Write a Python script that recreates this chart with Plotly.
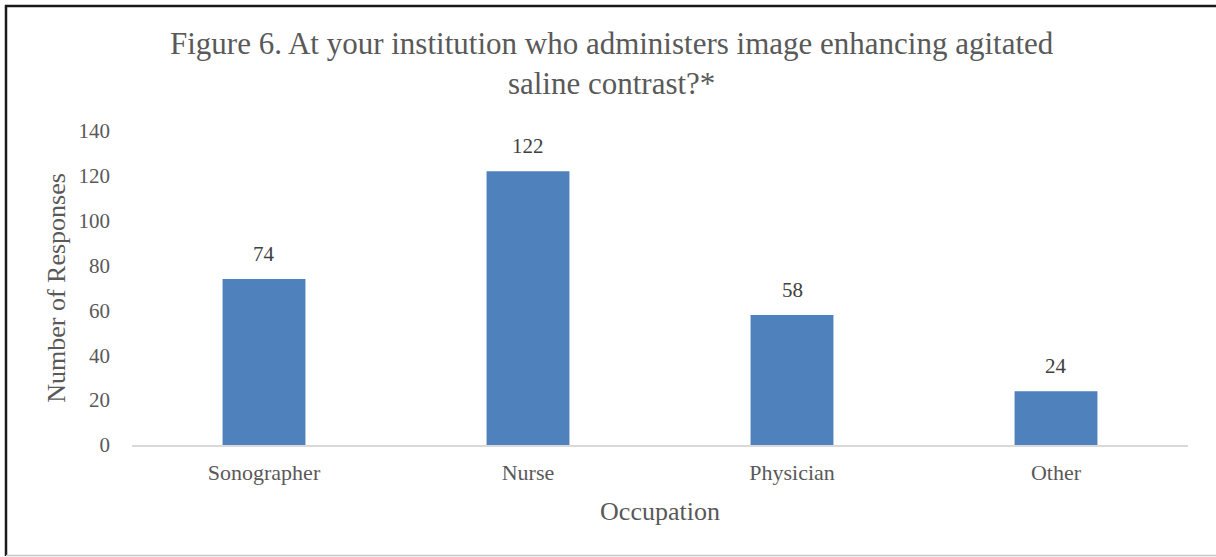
import plotly.graph_objects as go

# Survey responses by occupation
occupations = ["Sonographer", "Nurse", "Physician", "Other"]
responses = [74, 122, 58, 24]
y_ticks = [0, 20, 40, 60, 80, 100, 120, 140]

W, H = 1216, 557
ML, MR, MT, MB = 132, 28, 131, 112
PW, PH = W - ML - MR, H - MT - MB

def px(x):
    return (x - ML) / PW

def py(y):
    return 1 - (y - MT) / PH

FONT = "Liberation Serif"
GREY = "#595959"

fig = go.Figure(
    go.Bar(
        x=occupations,
        y=responses,
        marker=dict(color="#4F81BD", line=dict(width=0)),
        cliponaxis=False,
    )
)

# value labels above each bar
for cat, val in zip(occupations, responses):
    fig.add_annotation(
        x=cat, y=val, text=str(val), showarrow=False,
        yanchor="middle", yshift=25,
        font=dict(family=FONT, size=21, color="#404040"),
    )

fig.update_layout(
    width=W,
    height=H,
    margin=dict(l=ML, r=MR, t=MT, b=MB),
    paper_bgcolor="white",
    plot_bgcolor="white",
    bargap=0.686,
    showlegend=False,
    title=dict(
        text="Figure 6. At your institution who administers image enhancing agitated<br>saline contrast?*",
        x=0.503,
        xanchor="center",
        y=1 - 54 / H,
        yanchor="middle",
        font=dict(family=FONT, size=31, color=GREY),
    ),
    xaxis=dict(
        showline=True,
        linecolor="#D9D9D9",
        linewidth=1.5,
        ticks="",
        ticklabelstandoff=7,
        tickfont=dict(family=FONT, size=22, color=GREY),
        title=dict(text="Occupation", font=dict(family=FONT, size=26, color=GREY), standoff=18),
        showgrid=False,
    ),
    yaxis=dict(
        range=[0, 140],
        tickvals=y_ticks,
        showgrid=False,
        zeroline=False,
        showline=False,
        ticks="",
        ticklabelstandoff=21,
        tickfont=dict(family=FONT, size=21, color=GREY),
        title=dict(text="Number of Responses", font=dict(family=FONT, size=26, color=GREY), standoff=5),
    ),
    shapes=[
        # outer frame
        dict(type="line", xref="paper", yref="paper", x0=px(5), x1=px(W + 2), y0=py(6), y1=py(6),
             line=dict(color="#1a1a1a", width=2.5)),
        dict(type="line", xref="paper", yref="paper", x0=px(6), x1=px(6), y0=py(5), y1=py(556),
             line=dict(color="#1a1a1a", width=2.5)),
        dict(type="line", xref="paper", yref="paper", x0=px(6), x1=px(W + 2), y0=py(555.5), y1=py(555.5),
             line=dict(color="#C8C8C8", width=1.5)),
    ],
)

fig.write_html("out.html")
